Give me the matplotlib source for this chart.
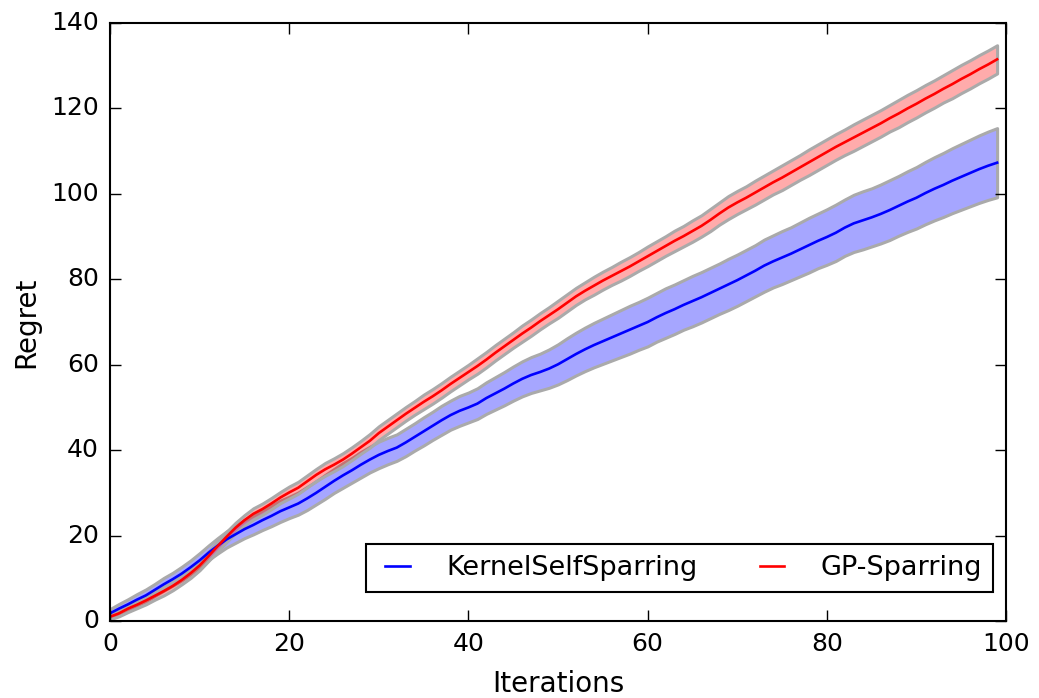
"""
Cumulative regret of KernelSelfSparring vs GP-Sparring with std bands.
"""

import numpy as np
import matplotlib
matplotlib.use("Agg")
import matplotlib.pyplot as plt

iterations = np.arange(100)

kernel_mean = [
    1.8, 2.9, 3.9, 5.0, 6.0, 7.3, 8.6, 9.8, 11.1, 12.6,
    14.2, 16.0, 17.6, 19.1, 20.3, 21.5, 22.5, 23.6, 24.6, 25.7,
    26.6, 27.5, 28.7, 30.0, 31.4, 32.8, 34.1, 35.3, 36.6, 37.8,
    38.9, 39.8, 40.6, 41.8, 43.1, 44.4, 45.7, 47.0, 48.2, 49.2,
    50.0, 50.9, 52.2, 53.3, 54.4, 55.6, 56.7, 57.6, 58.3, 59.1,
    60.1, 61.3, 62.5, 63.6, 64.6, 65.5, 66.4, 67.3, 68.2, 69.1,
    70.0, 71.1, 72.1, 73.0, 74.0, 74.9, 75.8, 76.8, 77.8, 78.8,
    79.8, 80.9, 82.0, 83.2, 84.2, 85.1, 86.0, 87.0, 88.0, 89.0,
    89.9, 90.9, 92.1, 93.1, 93.8, 94.5, 95.3, 96.2, 97.2, 98.2,
    99.1, 100.2, 101.2, 102.1, 103.1, 104.0, 104.9, 105.8, 106.6, 107.3,
]
kernel_std = [
    1.0, 1.1, 1.2, 1.3, 1.4, 1.4, 1.5, 1.5, 1.6, 1.6,
    1.7, 1.7, 1.8, 1.9, 2.0, 2.1, 2.2, 2.3, 2.4, 2.5,
    2.5, 2.6, 2.7, 2.7, 2.8, 2.8, 2.9, 2.9, 3.0, 3.0,
    3.1, 3.1, 3.1, 3.2, 3.2, 3.3, 3.3, 3.4, 3.4, 3.5,
    3.5, 3.6, 3.7, 3.8, 3.9, 4.0, 4.1, 4.2, 4.3, 4.5,
    4.7, 4.9, 5.0, 5.1, 5.2, 5.3, 5.4, 5.5, 5.6, 5.6,
    5.7, 5.7, 5.8, 5.8, 5.8, 5.9, 5.9, 5.9, 5.9, 6.0,
    6.0, 6.0, 6.0, 6.1, 6.1, 6.2, 6.2, 6.3, 6.4, 6.4,
    6.5, 6.6, 6.6, 6.7, 6.8, 6.8, 6.9, 7.0, 7.0, 7.1,
    7.2, 7.3, 7.4, 7.5, 7.6, 7.7, 7.8, 7.9, 8.0, 8.1,
]

gp_mean = [
    1.0, 1.8, 2.9, 3.8, 4.8, 5.9, 7.0, 8.2, 9.6, 11.2,
    13.0, 15.2, 17.5, 19.7, 21.8, 23.6, 25.1, 26.2, 27.5, 28.9,
    30.1, 31.2, 32.7, 34.2, 35.5, 36.6, 37.8, 39.2, 40.7, 42.2,
    44.0, 45.5, 47.0, 48.5, 49.9, 51.3, 52.6, 54.0, 55.5, 56.9,
    58.3, 59.7, 61.2, 62.8, 64.3, 65.8, 67.3, 68.7, 70.2, 71.6,
    73.0, 74.5, 76.0, 77.3, 78.5, 79.7, 80.8, 81.9, 83.0, 84.2,
    85.4, 86.6, 87.8, 89.0, 90.1, 91.3, 92.5, 93.9, 95.4, 96.8,
    98.0, 99.1, 100.3, 101.5, 102.7, 103.8, 105.0, 106.2, 107.4, 108.6,
    109.8, 111.0, 112.1, 113.2, 114.3, 115.4, 116.5, 117.7, 118.8, 120.0,
    121.1, 122.3, 123.4, 124.6, 125.7, 126.9, 128.0, 129.2, 130.3, 131.5,
]
gp_std = [
    0.6, 0.7, 0.8, 0.8, 0.9, 0.9, 1.0, 1.0, 1.0, 1.1,
    1.1, 1.1, 1.2, 1.2, 1.2, 1.2, 1.3, 1.3, 1.3, 1.3,
    1.4, 1.4, 1.4, 1.4, 1.5, 1.5, 1.5, 1.5, 1.5, 1.6,
    1.6, 1.6, 1.6, 1.6, 1.6, 1.7, 1.7, 1.7, 1.7, 1.7,
    1.7, 1.8, 1.8, 1.8, 1.8, 1.8, 1.9, 1.9, 1.9, 1.9,
    2.0, 2.0, 2.0, 2.0, 2.1, 2.1, 2.1, 2.2, 2.2, 2.2,
    2.3, 2.3, 2.3, 2.4, 2.4, 2.5, 2.5, 2.6, 2.6, 2.7,
    2.7, 2.7, 2.8, 2.8, 2.8, 2.9, 2.9, 2.9, 3.0, 3.0,
    3.0, 3.0, 3.0, 3.1, 3.1, 3.1, 3.1, 3.1, 3.2, 3.2,
    3.2, 3.2, 3.2, 3.2, 3.3, 3.3, 3.3, 3.3, 3.3, 3.3,
]

plt.style.use("classic")
plt.rcParams["font.family"] = "DejaVu Sans"

fig = plt.figure(figsize=(10.39, 6.98), dpi=100, facecolor="white")
ax = fig.add_axes([0.1059, 0.1103, 0.8624, 0.8567])

km, ks = np.array(kernel_mean), np.array(kernel_std)
gm, gs = np.array(gp_mean), np.array(gp_std)

# shaded std bands with light gray edges
ax.fill_between(iterations, km - ks, km + ks, facecolor=(0, 0, 1, 0.35),
                edgecolor="#aaaaaa", linewidth=2.2)
ax.fill_between(iterations, gm - gs, gm + gs, facecolor=(1, 0, 0, 0.33),
                edgecolor="#aaaaaa", linewidth=2.2)

ax.plot(iterations, km, color="blue", linewidth=1.9, label="KernelSelfSparring")
ax.plot(iterations, gm, color="red", linewidth=1.9, label="GP-Sparring")

ax.set_xlim(0, 100)
ax.set_ylim(0, 140)
ax.set_xlabel("Iterations", fontsize=20, labelpad=10)
ax.set_ylabel("Regret", fontsize=20, labelpad=8)
ax.tick_params(axis="both", which="major", labelsize=18, direction="in",
               length=8, width=1, top=True, right=True, pad=8)
for spine in ax.spines.values():
    spine.set_linewidth(1.5)

leg = ax.legend(loc="lower right", bbox_to_anchor=(0.9855, 0.0485),
                borderaxespad=0, ncol=2, fontsize=19.5, frameon=True,
                fancybox=False, handlelength=1.5, handletextpad=1.05,
                columnspacing=2.0, borderpad=0.4)
leg.get_frame().set_edgecolor("black")
leg.get_frame().set_linewidth(1.5)

fig.savefig("out.png", dpi=100, facecolor="white")
plt.close(fig)
